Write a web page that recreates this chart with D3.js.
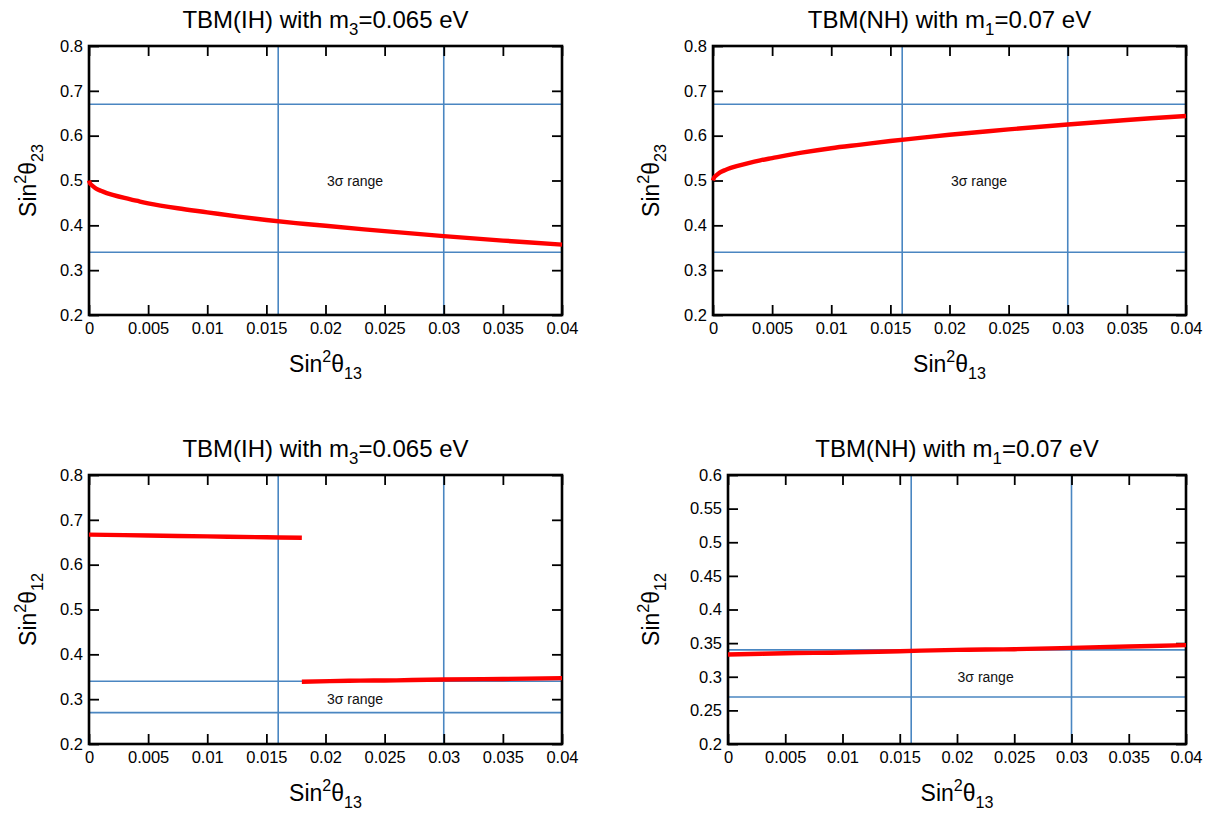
<!DOCTYPE html>
<html>
<head>
<meta charset="utf-8">
<script src="https://cdn.jsdelivr.net/npm/d3@7"></script>
<style>
  html, body { margin: 0; padding: 0; background: #fff; }
  svg { display: block; font-family: "Liberation Sans", Arial, Helvetica, sans-serif; }
</style>
</head>
<body>
<svg id="chart" width="1217" height="817"></svg>
<script>
// Tick values shared by the panels
const xTicks = [0, 0.005, 0.01, 0.015, 0.02, 0.025, 0.03, 0.035, 0.04];
const yTicks23 = [0.2, 0.3, 0.4, 0.5, 0.6, 0.7, 0.8];
const yTicks12IH = [0.2, 0.3, 0.4, 0.5, 0.6, 0.7, 0.8];
const yTicks12NH = [0.2, 0.25, 0.3, 0.35, 0.4, 0.45, 0.5, 0.55, 0.6];

// 3-sigma experimental bounds
const sigma13 = [0.016, 0.030];
const sigma23 = [0.34, 0.67];
const sigma12 = [0.27, 0.34];

// sin^2(theta23) vs sin^2(theta13), inverted hierarchy, m3 = 0.065 eV
const ih23X = [0, 0.0001, 0.0003, 0.0006, 0.001, 0.0015, 0.002, 0.003, 0.004, 0.005, 0.0075, 0.01, 0.0125, 0.015, 0.0175, 0.02, 0.025, 0.03, 0.035, 0.04];
const ih23Y = [0.500, 0.493, 0.488, 0.482, 0.477, 0.472, 0.468, 0.461, 0.455, 0.449, 0.438, 0.429, 0.420, 0.412, 0.405, 0.399, 0.387, 0.376, 0.366, 0.357];

// sin^2(theta23) vs sin^2(theta13), normal hierarchy, m1 = 0.07 eV
const nh23X = [0, 0.0001, 0.0003, 0.0006, 0.001, 0.0015, 0.002, 0.003, 0.004, 0.005, 0.0075, 0.01, 0.0125, 0.015, 0.0175, 0.02, 0.025, 0.03, 0.035, 0.04];
const nh23Y = [0.500, 0.507, 0.512, 0.518, 0.523, 0.528, 0.532, 0.539, 0.545, 0.550, 0.562, 0.572, 0.580, 0.588, 0.595, 0.602, 0.614, 0.625, 0.635, 0.644];

// sin^2(theta12) vs sin^2(theta13), inverted hierarchy: two branches
const ih12aX = [0, 0.005, 0.01, 0.015, 0.018];
const ih12aY = [0.667, 0.665, 0.663, 0.661, 0.660];
const ih12bX = [0.018, 0.022, 0.026, 0.03, 0.035, 0.04];
const ih12bY = [0.339, 0.341, 0.342, 0.344, 0.345, 0.347];

// sin^2(theta12) vs sin^2(theta13), normal hierarchy
const nh12X = [0, 0.005, 0.01, 0.015, 0.02, 0.025, 0.03, 0.035, 0.04];
const nh12Y = [0.333, 0.335, 0.336, 0.338, 0.340, 0.341, 0.343, 0.345, 0.347];

const zip = (xs, ys) => xs.map((x, i) => [x, ys[i]]);

const panels = [
  { left: 89, right: 562, top: 46, bottom: 315, yTitleX: 28,
    title: [["TBM(IH) with m"], ["3", "sub"], ["=0.065 eV"]],
    yLabel: "23", yDomain: [0.2, 0.8], yTicks: yTicks23, hLines: sigma23,
    series: [zip(ih23X, ih23Y)], note: [0.0225, 0.5] },
  { left: 713, right: 1186, top: 46, bottom: 315, yTitleX: 651,
    title: [["TBM(NH) with m"], ["1", "sub"], ["=0.07 eV"]],
    yLabel: "23", yDomain: [0.2, 0.8], yTicks: yTicks23, hLines: sigma23,
    series: [zip(nh23X, nh23Y)], note: [0.0225, 0.5] },
  { left: 89, right: 562, top: 475, bottom: 744, yTitleX: 28,
    title: [["TBM(IH) with m"], ["3", "sub"], ["=0.065 eV"]],
    yLabel: "12", yDomain: [0.2, 0.8], yTicks: yTicks12IH, hLines: sigma12,
    series: [zip(ih12aX, ih12aY), zip(ih12bX, ih12bY)], note: [0.0225, 0.3] },
  { left: 728, right: 1186, top: 475, bottom: 744, yTitleX: 651,
    title: [["TBM(NH) with m"], ["1", "sub"], ["=0.07 eV"]],
    yLabel: "12", yDomain: [0.2, 0.6], yTicks: yTicks12NH, hLines: sigma12,
    series: [zip(nh12X, nh12Y)], note: [0.0225, 0.3] }
];

const svg = d3.select("#chart");
const BLUE = "#4a86c1";
const fmt = d => String(+d.toFixed(3));

// Writes a text made of normal / sub / sup pieces into a <text> element
function richText(sel, parts, size) {
  let shift = 0;
  parts.forEach(([t, kind]) => {
    const ts = sel.append("tspan").text(t);
    let target = 0;
    if (kind === "sub") { target = 0.3 * size; ts.attr("font-size", size * 0.7); }
    if (kind === "sup") { target = -0.42 * size; ts.attr("font-size", size * 0.7); }
    ts.attr("dy", target - shift);
    shift = target;
  });
}

panels.forEach(p => {
  const x = d3.scaleLinear().domain([0, 0.04]).range([p.left, p.right]);
  const y = d3.scaleLinear().domain(p.yDomain).range([p.bottom, p.top]);
  const g = svg.append("g");
  const tick = 10;

  // 3-sigma bounds
  g.selectAll(".vl").data(sigma13).join("line")
    .attr("x1", d => x(d)).attr("x2", d => x(d))
    .attr("y1", p.top).attr("y2", p.bottom)
    .attr("stroke", BLUE).attr("stroke-width", 1.6);
  g.selectAll(".hl").data(p.hLines).join("line")
    .attr("x1", p.left).attr("x2", p.right)
    .attr("y1", d => y(d)).attr("y2", d => y(d))
    .attr("stroke", BLUE).attr("stroke-width", 1.6);

  // axes with inward ticks on all four sides
  const bottom = g.append("g").attr("transform", `translate(0,${p.bottom})`)
    .call(d3.axisBottom(x).tickValues(xTicks).tickSizeInner(-tick).tickSizeOuter(0).tickFormat(fmt));
  const left = g.append("g").attr("transform", `translate(${p.left},0)`)
    .call(d3.axisLeft(y).tickValues(p.yTicks).tickSizeInner(-tick).tickSizeOuter(0).tickPadding(6).tickFormat(fmt));
  const top = g.append("g").attr("transform", `translate(0,${p.top})`)
    .call(d3.axisTop(x).tickValues(xTicks).tickSizeInner(-tick).tickSizeOuter(0).tickFormat(""));
  const right = g.append("g").attr("transform", `translate(${p.right},0)`)
    .call(d3.axisRight(y).tickValues(p.yTicks).tickSizeInner(-tick).tickSizeOuter(0).tickFormat(""));
  [bottom, left, top, right].forEach(a => {
    a.select(".domain").remove();
    a.selectAll(".tick line").attr("stroke", "#000").attr("stroke-width", 1.8);
    a.selectAll(".tick text").attr("font-size", 16.5).attr("fill", "#000")
      .attr("font-family", "'Liberation Sans', Arial, Helvetica, sans-serif");
  });
  bottom.selectAll(".tick text").attr("dy", "0.71em").attr("y", 7);

  // frame
  g.append("rect").attr("x", p.left).attr("y", p.top)
    .attr("width", p.right - p.left).attr("height", p.bottom - p.top)
    .attr("fill", "none").attr("stroke", "#000").attr("stroke-width", 2.6);

  // model curves
  const line = d3.line().x(d => x(d[0])).y(d => y(d[1])).curve(d3.curveCatmullRom.alpha(0.5));
  p.series.forEach(s => {
    g.append("path").attr("d", line(s)).attr("fill", "none")
      .attr("stroke", "#ff0000").attr("stroke-width", 4.4);
  });

  // region note
  g.append("text").attr("x", x(p.note[0])).attr("y", y(p.note[1]))
    .attr("text-anchor", "middle").attr("dominant-baseline", "central")
    .attr("font-size", 14).attr("fill", "#111").text("3σ range");

  // titles
  const cx = (p.left + p.right) / 2;
  richText(g.append("text").attr("x", cx).attr("y", p.top - 18)
    .attr("text-anchor", "middle").attr("font-size", 24).attr("fill", "#000"), p.title, 24);

  richText(g.append("text").attr("x", cx).attr("y", p.bottom + 57)
    .attr("text-anchor", "middle").attr("font-size", 23).attr("fill", "#000"),
    [["Sin"], ["2", "sup"], ["θ"], ["13", "sub"]], 23);

  const yc = (p.top + p.bottom) / 2;
  richText(g.append("text")
    .attr("transform", `translate(${p.yTitleX + 8},${yc}) rotate(-90)`)
    .attr("text-anchor", "middle").attr("font-size", 23).attr("fill", "#000"),
    [["Sin"], ["2", "sup"], ["θ"], [p.yLabel, "sub"]], 23);
});
</script>
</body>
</html>
